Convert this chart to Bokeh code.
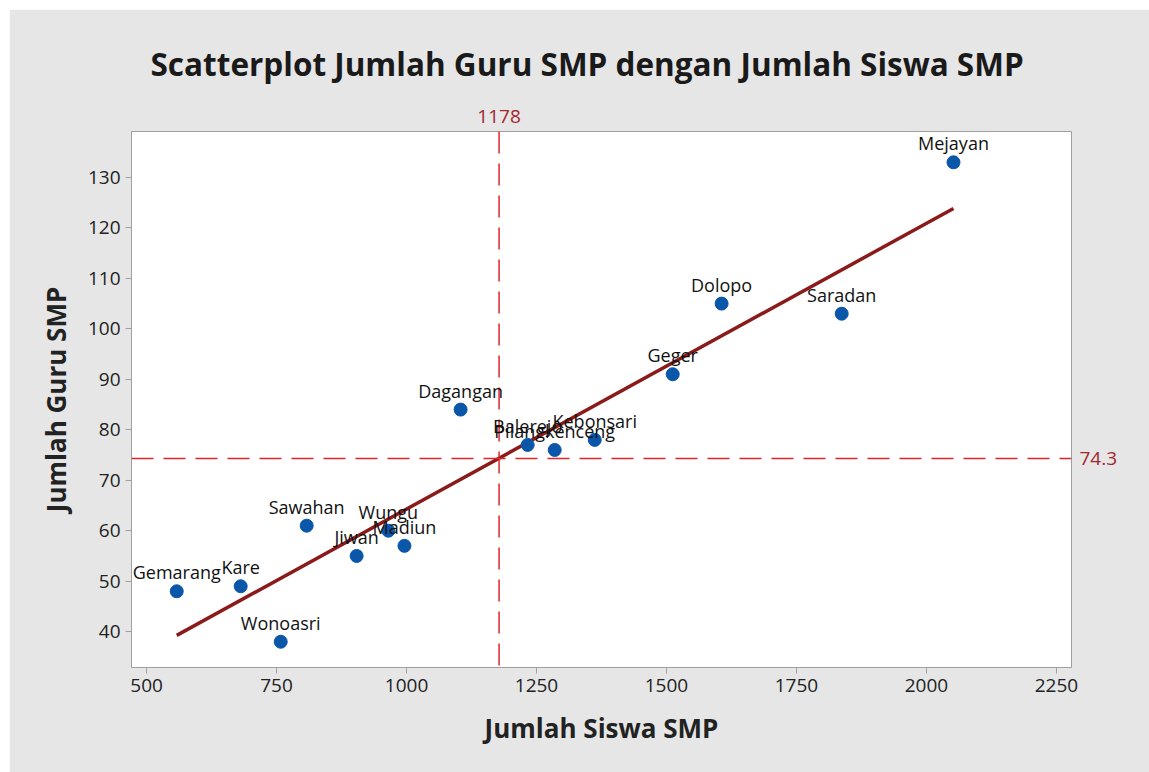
import numpy as np
from bokeh.plotting import figure
from bokeh.models import ColumnDataSource, Span, Range1d, FixedTicker, LabelSet, LinearAxis
from bokeh.core.properties import value
from bokeh.embed import file_html
from bokeh.resources import INLINE

# ---- data ----
kecamatan = ["Mejayan", "Saradan", "Dolopo", "Geger", "Dagangan", "Balerejo",
             "Pilangkenceng", "Kebonsari", "Sawahan", "Wungu", "Madiun", "Jiwan",
             "Kare", "Gemarang", "Wonoasri"]
siswa = [2052, 1837, 1606, 1512, 1104, 1233, 1285, 1362, 808, 965, 996, 904, 681, 558, 758]
guru = [133, 103, 105, 91, 84, 77, 76, 78, 61, 60, 57, 55, 49, 48, 38]
ref_x = 1178
ref_y = 74.3
x_ticks = [500, 750, 1000, 1250, 1500, 1750, 2000, 2250]
y_ticks = [40, 50, 60, 70, 80, 90, 100, 110, 120, 130]

FONT = "Open Sans"
TICK_COLOR = "#222222"

p = figure(width=1140, height=763, output_backend="svg", toolbar_location=None,
           x_range=Range1d(471, 2279), y_range=Range1d(32.9, 139.1),
           title="Scatterplot Jumlah Guru SMP dengan Jumlah Siswa SMP",
           min_border_left=122, min_border_right=78, min_border_top=122, min_border_bottom=105)
p.styles = {"margin-left": "9px", "margin-top": "9px"}

p.background_fill_color = "white"
p.border_fill_color = "#e6e6e6"
p.outline_line_color = "#a0a0a0"
p.xgrid.visible = False
p.ygrid.visible = False

p.title.text_font = FONT
p.title.text_font_size = "31.5px"
p.title.text_font_style = "bold"
p.title.text_color = "#1a1a1a"
p.title.align = "left"
p.title.offset = 19
p.title.standoff = 43

for ax in (p.xaxis[0], p.yaxis[0]):
    ax.axis_line_color = "#a0a0a0"
    ax.major_tick_line_color = "#a0a0a0"
    ax.minor_tick_line_color = None
    ax.major_tick_out = 6
    ax.major_tick_in = 0
    ax.major_label_text_font = FONT
    ax.major_label_text_font_size = "19px"
    ax.major_label_text_color = TICK_COLOR
    ax.axis_label_text_font = FONT
    ax.axis_label_text_font_size = "26px"
    ax.axis_label_text_font_style = "bold"
    ax.axis_label_text_color = "#222222"

p.xaxis.ticker = FixedTicker(ticks=x_ticks)
p.yaxis.ticker = FixedTicker(ticks=y_ticks)
p.xaxis.axis_label = "Jumlah Siswa SMP"
p.yaxis.axis_label = "Jumlah Guru SMP"
p.xaxis.axis_label_standoff = 15
p.yaxis.axis_label_standoff = 11

# reference lines
p.add_layout(Span(location=ref_x, dimension="height", line_color="#e0262b",
                  line_width=1.5, line_dash="22 10"))
p.add_layout(Span(location=ref_y, dimension="width", line_color="#e0262b",
                  line_width=1.5, line_dash="22 10"))

top_ax = LinearAxis(ticker=FixedTicker(ticks=[ref_x]), axis_line_color=None,
                    major_tick_line_color=None, minor_tick_line_color=None,
                    major_label_standoff=3, major_label_text_font=FONT,
                    major_label_text_font_size="19px", major_label_text_color="#a3282e",
                    major_label_overrides={ref_x: str(ref_x)})
p.add_layout(top_ax, "above")
right_ax = LinearAxis(ticker=FixedTicker(ticks=[ref_y]), axis_line_color=None,
                      major_tick_line_color=None, minor_tick_line_color=None,
                      major_label_standoff=2, major_label_text_font=FONT,
                      major_label_text_font_size="19px", major_label_text_color="#a3282e",
                      major_label_overrides={ref_y: str(ref_y)})
p.add_layout(right_ax, "right")

# regression line
xs = np.array(siswa, dtype=float)
ys = np.array(guru, dtype=float)
b1, b0 = np.polyfit(xs, ys, 1)
lx = np.array([xs.min(), xs.max()])
p.line(lx, b0 + b1 * lx, line_color="#8b1a1a", line_width=3.5)

src = ColumnDataSource(dict(x=siswa, y=guru, name=kecamatan))
p.scatter("x", "y", source=src, size=13, fill_color="#0a56a8", line_color="#0a56a8")
p.add_layout(LabelSet(x="x", y="y", text="name", source=src, text_align="center",
                      text_baseline="bottom", y_offset=7, text_font=value(FONT),
                      text_font_size=value("18px"), text_color="#111111"))

open("out.html", "w").write(file_html(p, INLINE))
